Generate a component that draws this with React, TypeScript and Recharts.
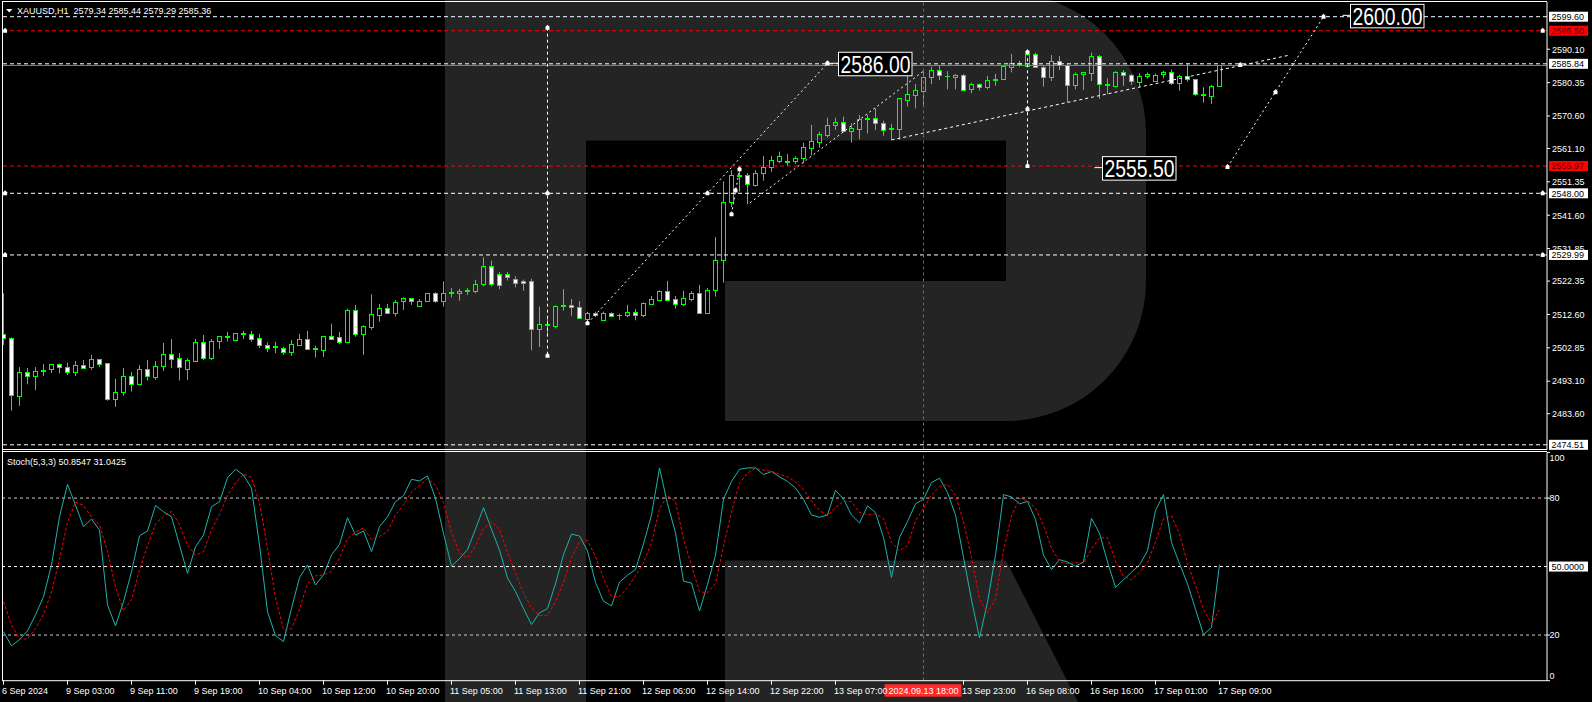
import React from "react";
import { ComposedChart, LineChart, Bar, Line, XAxis, YAxis, ReferenceLine, ReferenceDot } from "recharts";

const FONT = "'Liberation Sans', Arial, sans-serif";
const LIME = "#00ff00";
// bar index -> pixel: bar 0 sits at x=3.5, 8px per bar, plot spans x 2..1547
const X_DOMAIN: [number, number] = [-0.1875, 192.9375];
const PRICE_DOMAIN: [number, number] = [2473.14, 2603.9];

// XAUUSD H1 candles, 6 Sep 2024 20:00 -> 17 Sep 09:00
const opens = [
  2506.8, 2505.7, 2488.9, 2495.7, 2494.7, 2496.0, 2496.8, 2498.0, 2497.2, 2495.9,
  2497.8, 2497.2, 2499.5, 2498.3, 2487.8, 2489.9, 2494.5, 2492.4, 2496.6, 2494.4,
  2497.4, 2501.1, 2499.8, 2496.8, 2499.1, 2504.6, 2500.0, 2504.7, 2506.2, 2505.1,
  2507.0, 2506.8, 2505.6, 2503.8, 2503.1, 2502.8, 2501.7, 2503.8, 2505.4, 2502.8,
  2502.3, 2506.2, 2505.9, 2504.6, 2513.8, 2506.8, 2509.0, 2512.5, 2514.4, 2513.1,
  2516.4, 2517.3, 2515.2, 2516.5, 2518.8, 2516.6, 2518.8, 2518.8, 2519.4, 2519.5,
  2521.4, 2526.7, 2524.3, 2524.3, 2523.0, 2522.3, 2522.3, 2508.4, 2509.6, 2509.2,
  2515.0, 2515.4, 2514.7, 2511.4, 2512.9, 2511.1, 2512.9, 2512.3, 2512.3, 2513.2,
  2512.3, 2515.8, 2516.9, 2519.4, 2517.0, 2515.8, 2517.2, 2518.8, 2513.1, 2519.7,
  2528.4, 2545.4, 2553.0, 2553.4, 2550.5, 2553.9, 2555.6, 2557.5, 2557.1, 2557.3,
  2558.2, 2561.3, 2563.1, 2565.0, 2567.9, 2568.8, 2566.3, 2566.9, 2569.7, 2570.0,
  2568.5, 2566.7, 2566.9, 2575.4, 2576.8, 2578.0, 2581.9, 2584.0, 2582.4, 2582.1,
  2582.5, 2578.5, 2579.9, 2579.0, 2581.0, 2581.3, 2585.0, 2585.9, 2585.2, 2588.7,
  2585.0, 2581.9, 2586.6, 2585.4, 2579.6, 2582.8, 2583.1, 2588.1, 2579.8, 2579.5,
  2583.5, 2582.5, 2580.6, 2582.2, 2580.9, 2582.9, 2583.3, 2580.2, 2582.3, 2581.4,
  2576.9, 2576.5, 2579.34,
];
const highs = [
  2518.8, 2505.9, 2497.2, 2497.0, 2497.2, 2498.1, 2498.1, 2498.3, 2498.5, 2499.0,
  2499.3, 2500.8, 2499.6, 2498.4, 2493.8, 2497.0, 2495.8, 2497.8, 2499.3, 2499.0,
  2504.3, 2505.4, 2501.3, 2499.8, 2505.4, 2506.6, 2505.4, 2506.2, 2507.5, 2507.1,
  2507.8, 2507.8, 2506.9, 2504.5, 2504.6, 2503.2, 2505.1, 2506.9, 2507.8, 2503.5,
  2506.2, 2509.9, 2507.5, 2514.3, 2515.4, 2509.4, 2518.5, 2515.7, 2515.7, 2516.8,
  2517.6, 2517.4, 2517.1, 2518.9, 2519.1, 2522.3, 2520.3, 2520.1, 2520.3, 2522.7,
  2529.3, 2528.3, 2525.0, 2525.0, 2523.8, 2522.8, 2523.0, 2514.9, 2511.8, 2515.3,
  2520.0, 2517.1, 2516.5, 2513.4, 2513.4, 2513.4, 2513.2, 2512.8, 2515.4, 2514.2,
  2516.1, 2518.0, 2519.6, 2522.4, 2518.0, 2519.5, 2519.4, 2521.2, 2520.3, 2535.2,
  2551.5, 2554.7, 2555.3, 2553.9, 2554.8, 2558.9, 2558.9, 2560.2, 2559.5, 2558.8,
  2562.8, 2568.0, 2566.0, 2570.1, 2570.1, 2570.4, 2568.5, 2570.9, 2570.9, 2572.9,
  2569.2, 2568.3, 2575.8, 2583.1, 2579.9, 2583.7, 2585.0, 2585.5, 2583.7, 2582.8,
  2582.9, 2580.3, 2580.1, 2582.3, 2582.9, 2585.5, 2588.7, 2586.7, 2589.2, 2589.1,
  2585.4, 2588.4, 2588.1, 2586.0, 2583.3, 2583.5, 2589.1, 2588.4, 2581.6, 2583.7,
  2584.0, 2582.9, 2583.1, 2583.3, 2583.0, 2583.8, 2584.2, 2582.6, 2586.0, 2581.4,
  2579.0, 2579.7, 2585.44,
];
const lows = [
  2503.7, 2484.5, 2485.9, 2492.2, 2490.5, 2494.6, 2495.5, 2495.4, 2494.9, 2494.6,
  2496.8, 2496.4, 2497.2, 2487.4, 2485.6, 2488.9, 2490.1, 2492.0, 2493.3, 2493.5,
  2496.1, 2497.0, 2493.3, 2493.5, 2499.1, 2499.3, 2499.3, 2502.5, 2504.7, 2505.1,
  2505.4, 2504.6, 2502.8, 2501.6, 2501.3, 2500.8, 2500.5, 2503.5, 2502.2, 2500.0,
  2500.2, 2505.1, 2503.9, 2504.4, 2506.1, 2500.8, 2508.1, 2510.5, 2512.7, 2512.0,
  2513.9, 2515.4, 2514.9, 2516.4, 2516.0, 2514.9, 2517.6, 2516.6, 2518.3, 2518.8,
  2520.8, 2520.8, 2520.0, 2522.5, 2520.5, 2519.5, 2502.1, 2503.1, 2506.5, 2508.5,
  2513.7, 2512.2, 2511.3, 2510.5, 2511.8, 2510.8, 2511.8, 2511.0, 2511.8, 2510.9,
  2511.8, 2515.6, 2516.7, 2516.5, 2514.3, 2515.1, 2516.4, 2512.9, 2512.7, 2517.8,
  2521.9, 2544.0, 2548.5, 2544.8, 2550.0, 2551.7, 2554.3, 2556.8, 2556.0, 2556.6,
  2556.8, 2559.2, 2561.3, 2564.3, 2566.5, 2565.8, 2562.8, 2563.8, 2565.5, 2566.5,
  2564.8, 2563.6, 2563.7, 2573.3, 2572.8, 2573.8, 2579.9, 2581.1, 2578.4, 2578.4,
  2578.0, 2577.2, 2578.0, 2578.4, 2579.4, 2581.1, 2583.3, 2585.0, 2584.9, 2584.7,
  2579.2, 2580.8, 2584.0, 2574.6, 2578.4, 2578.2, 2580.8, 2575.6, 2577.0, 2579.0,
  2579.4, 2579.7, 2579.0, 2581.5, 2580.6, 2581.6, 2579.7, 2578.0, 2580.6, 2576.5,
  2574.5, 2574.1, 2579.29,
];
const closes = [
  2505.7, 2489.1, 2495.7, 2494.7, 2496.1, 2496.3, 2498.0, 2497.2, 2495.9, 2497.8,
  2497.1, 2499.5, 2498.2, 2487.8, 2489.9, 2494.5, 2492.2, 2496.6, 2494.5, 2497.5,
  2501.1, 2499.7, 2497.2, 2499.2, 2504.6, 2500.0, 2504.9, 2506.2, 2506.0, 2507.1,
  2507.3, 2505.5, 2503.8, 2502.9, 2503.5, 2501.7, 2504.0, 2505.4, 2502.6, 2502.5,
  2506.2, 2505.4, 2504.6, 2513.9, 2506.8, 2509.2, 2512.6, 2514.4, 2513.1, 2516.2,
  2517.3, 2516.6, 2516.5, 2518.8, 2516.6, 2518.8, 2519.1, 2519.5, 2519.7, 2521.6,
  2526.7, 2521.4, 2521.2, 2523.4, 2521.7, 2521.7, 2508.4, 2509.8, 2509.9, 2515.1,
  2515.4, 2514.7, 2511.5, 2512.9, 2512.4, 2512.9, 2512.2, 2512.5, 2513.2, 2512.4,
  2515.9, 2517.1, 2519.4, 2516.9, 2515.8, 2517.3, 2518.8, 2513.1, 2519.7, 2528.5,
  2545.4, 2553.4, 2553.3, 2550.6, 2553.9, 2555.8, 2557.7, 2558.9, 2557.4, 2558.3,
  2561.5, 2563.3, 2565.3, 2568.0, 2568.8, 2566.3, 2567.1, 2569.7, 2570.0, 2568.4,
  2566.6, 2567.0, 2575.8, 2576.9, 2578.2, 2581.9, 2584.0, 2582.5, 2582.2, 2582.6,
  2578.2, 2579.9, 2579.0, 2581.0, 2581.3, 2585.1, 2586.0, 2586.2, 2588.7, 2585.0,
  2581.9, 2586.6, 2585.4, 2579.6, 2582.9, 2583.5, 2588.1, 2579.9, 2579.6, 2583.5,
  2582.5, 2580.7, 2582.2, 2582.9, 2582.5, 2583.5, 2580.2, 2582.3, 2581.3, 2576.9,
  2576.7, 2579.4, 2585.36,
];

// Stochastic(5,3,3): %K main line and %D signal
const stochK = [
  21.5, 15.2, 18.0, 21.8, 28.8, 36.8, 50.7, 71.8, 86.0, 76.9,
  67.5, 70.8, 66.0, 33.2, 24.0, 34.6, 47.8, 63.5, 65.6, 76.7,
  74.0, 71.8, 59.4, 47.0, 58.7, 63.8, 76.2, 78.4, 88.9, 92.6,
  90.1, 84.3, 59.4, 30.2, 19.7, 17.1, 31.7, 45.1, 50.7, 41.9,
  46.3, 55.1, 59.7, 71.4, 63.8, 65.6, 56.5, 67.5, 71.8, 78.4,
  81.1, 88.2, 87.5, 89.7, 79.9, 64.5, 50.2, 53.5, 57.4, 66.4,
  75.8, 66.3, 57.2, 45.0, 39.1, 31.6, 24.6, 29.7, 31.6, 42.5,
  55.2, 64.2, 63.4, 56.8, 43.0, 34.8, 32.8, 43.2, 46.2, 48.7,
  59.9, 72.6, 93.2, 77.5, 64.8, 43.6, 42.8, 30.5, 42.2, 55.0,
  79.5, 87.3, 92.6, 93.2, 93.2, 90.3, 91.6, 89.3, 87.3, 84.4,
  79.5, 72.6, 71.6, 72.6, 83.4, 79.5, 72.6, 69.1, 76.6, 73.6,
  62.8, 45.2, 62.8, 69.7, 77.5, 79.5, 86.8, 88.7, 82.4, 72.6,
  54.0, 35.4, 18.7, 34.4, 55.0, 81.5, 80.5, 77.5, 78.5, 70.7,
  55.0, 48.7, 53.0, 52.0, 50.1, 52.0, 71.1, 64.6, 52.0, 40.9,
  44.2, 47.5, 50.7, 56.9, 74.6, 81.5, 60.5, 51.3, 42.4, 31.3,
  20.2, 23.3, 50.8547,
];
const stochD = [
  34.6, 24.4, 18.2, 18.3, 22.9, 29.1, 38.8, 53.1, 69.5, 78.2,
  76.8, 71.7, 68.1, 56.7, 41.1, 30.6, 35.5, 48.6, 59.0, 68.6,
  72.1, 74.2, 68.4, 59.4, 55.0, 56.5, 66.2, 72.8, 81.2, 86.6,
  90.5, 89.0, 77.9, 58.0, 36.4, 22.3, 22.8, 31.3, 42.5, 45.9,
  46.3, 47.8, 53.7, 62.1, 65.0, 66.9, 62.0, 63.2, 65.3, 72.6,
  77.1, 82.6, 85.6, 88.5, 85.7, 78.0, 64.9, 56.1, 53.7, 59.1,
  66.5, 69.5, 66.4, 56.2, 47.1, 38.6, 31.8, 28.6, 28.6, 34.6,
  43.1, 54.0, 60.9, 61.5, 54.4, 44.9, 36.9, 36.9, 40.7, 46.0,
  51.6, 60.4, 75.2, 81.1, 78.5, 62.0, 50.4, 39.0, 38.5, 42.6,
  58.9, 73.9, 86.5, 91.0, 93.0, 92.2, 91.7, 90.4, 89.4, 87.0,
  83.7, 78.8, 74.6, 72.3, 75.9, 78.5, 78.5, 73.7, 72.8, 73.1,
  71.0, 60.5, 56.9, 59.2, 70.0, 75.6, 81.3, 85.0, 86.0, 81.2,
  69.7, 54.0, 36.0, 29.5, 36.0, 57.0, 72.3, 79.8, 78.8, 75.6,
  68.1, 58.1, 52.2, 51.2, 51.7, 51.4, 57.7, 62.6, 62.6, 52.5,
  45.7, 44.2, 47.5, 51.7, 60.7, 71.0, 72.2, 64.4, 51.4, 41.7,
  31.3, 24.9, 31.0425,
];

// the 13 Sep 15:00 label sits under the crosshair tag, so it is not shown
const timeTicks = [0, 8, 16, 24, 32, 40, 48, 56, 64, 72, 80, 88, 96, 104, 120, 128, 136, 144, 152];
const timeLabels = [
  "6 Sep 2024", "9 Sep 03:00", "9 Sep 11:00", "9 Sep 19:00", "10 Sep 04:00", "10 Sep 12:00",
  "10 Sep 20:00", "11 Sep 05:00", "11 Sep 13:00", "11 Sep 21:00", "12 Sep 06:00", "12 Sep 14:00",
  "12 Sep 22:00", "13 Sep 07:00", "13 Sep 23:00", "16 Sep 08:00", "16 Sep 16:00",
  "17 Sep 01:00", "17 Sep 09:00",
];
const priceTicks = [2590.1, 2580.35, 2570.6, 2561.1, 2551.35, 2541.6, 2531.85, 2522.35, 2512.6, 2502.85, 2493.1, 2483.6];
const stochTicks = [0, 20, 80, 100];

// horizontal price lines drawn by the analyst
const whiteLevels = [2599.6, 2585.84, 2548.0, 2529.99, 2474.51];
const redLevels = [2595.5, 2555.97];
const bidPrice = 2585.36;
const crosshairBar = 115;
const crosshairLabel = "2024.09.13 18:00";

// trend lines as [bar, price, bar, price]
const trendLines: [number, number, number, number][] = [
  [73, 2510.0, 103, 2586.0],
  [93.3, 2545.2, 115, 2583.7],
  [111, 2563.6, 160.8, 2588.4],
  [153, 2555.7, 165, 2599.6],
  [91.0, 2541.9, 92.0, 2555.0],
];
// vertical measuring lines as [bar, topPrice, bottomPrice]
const verticalLines: [number, number, number][] = [
  [68, 2596.4, 2500.5],
  [128, 2589.2, 2556.0],
];
const markers: [number, number][] = [
  [68, 2596.4], [68, 2548.0], [68, 2500.5], [73, 2510.0], [88.0, 2548.0], [91.0, 2541.9],
  [91.5, 2548.8], [92.0, 2555.0], [103, 2586.0], [128, 2589.2], [128, 2572.6], [128, 2556.0],
  [153, 2555.7], [159, 2577.5], [165, 2599.6], [154.6, 2585.5],
  [0.2, 2595.5], [192.4, 2595.5], [0.2, 2548.0], [192.4, 2548.0], [0.2, 2529.99], [192.4, 2529.99],
];
const targetBars = [103, 136, 167];
const targetPrices = [2586.0, 2555.5, 2600.0];

const candles = opens.map((o, i) => ({
  i, open: o, high: highs[i], low: lows[i], close: closes[i], range: [lows[i], highs[i]],
}));
const stochRows = stochK.map((k, i) => ({ i, k, d: stochD[i] }));
const last = opens.length - 1;

function Candle(props: any) {
  const { x, y, width, height, payload } = props;
  if (x == null || y == null || !payload) return null;
  const cx = Math.floor(x + width / 2) + 0.5;
  const { open, close, high, low } = payload;
  const k = high > low ? height / (high - low) : 0;
  const yo = y + (high - open) * k;
  const yc = y + (high - close) * k;
  const top = Math.round(Math.min(yo, yc)) + 0.5;
  const bot = Math.round(Math.max(yo, yc)) + 0.5;
  const bear = close < open;
  return (
    <g>
      <line x1={cx} x2={cx} y1={y} y2={top} stroke={LIME} />
      <line x1={cx} x2={cx} y1={bot} y2={y + height} stroke={LIME} />
      {bot - top < 1 ? (
        <line x1={cx - 2.5} x2={cx + 2.5} y1={top} y2={top} stroke={LIME} />
      ) : (
        <rect x={cx - 2} y={top} width={4} height={bot - top} fill={bear ? "#fff" : "none"} stroke={LIME} />
      )}
    </g>
  );
}

function PriceTick(props: any) {
  const { x, y, payload } = props;
  return (
    <g>
      <line x1={x - 5} x2={x - 2} y1={y} y2={y} stroke="#fff" />
      <text x={x} y={y + 3.3} fill="#fff" fontSize={9} fontFamily={FONT}>{Number(payload.value).toFixed(2)}</text>
    </g>
  );
}

function StochTick(props: any) {
  const { x, y, payload } = props;
  const v = payload.value;
  const dy = v === 100 ? 9 : v === 0 ? -2.2 : 3.3;
  return (
    <g>
      <line x1={x - 5} x2={x - 2} y1={y} y2={y} stroke="#fff" />
      <text x={x - 2.5} y={y + dy} fill="#fff" fontSize={9} fontFamily={FONT}>{v}</text>
    </g>
  );
}

function TimeTick(props: any) {
  const { x, y, payload } = props;
  const label = timeLabels[timeTicks.indexOf(payload.value)];
  if (!label) return null;
  return (
    <g>
      <line x1={x} x2={x} y1={y} y2={y + 4} stroke="#fff" />
      <text x={x - 1.5} y={y + 13.3} fill="#fff" fontSize={9} fontFamily={FONT}>{label}</text>
    </g>
  );
}

function AxisTag(props: any) {
  const { viewBox, tagText, tagFill, tagColor } = props;
  if (!viewBox) return null;
  const x = viewBox.x + viewBox.width;
  const y = viewBox.y;
  return (
    <g>
      <rect x={x + 2} y={y - 5} width={39} height={10} fill={tagFill} />
      <text x={x + 4.5} y={y + 3.3} fill={tagColor} fontSize={9} fontFamily={FONT}>{tagText}</text>
    </g>
  );
}

function TimeTag(props: any) {
  const { viewBox, tagText } = props;
  if (!viewBox) return null;
  const x = viewBox.x;
  const y = viewBox.y + viewBox.height;
  return (
    <g>
      <rect x={x - 39} y={y + 3.5} width={77} height={12.5} fill="#ff2a2a" />
      <text x={x} y={y + 13.3} textAnchor="middle" fill="#fff" fontSize={9} fontFamily={FONT}>{tagText}</text>
    </g>
  );
}

function Marker(props: any) {
  const { cx, cy } = props;
  if (cx == null) return null;
  return <path d={`M${cx - 2} ${cy + 2} V${cy - 1} L${cx} ${cy - 3} L${cx + 2} ${cy - 1} V${cy + 2} Z`} fill="#fff" />;
}

function TargetTag(props: any) {
  const { cx, cy, tagText } = props;
  if (cx == null) return null;
  return (
    <g>
      <line x1={cx + 3} x2={cx + 11} y1={cy} y2={cy} stroke="#fff" />
      <rect x={cx + 11} y={cy - 11} width={73.5} height={23.5} fill="#000" stroke="#fff" />
      <text x={cx + 13} y={cy + 9.5} fill="#fff" fontSize={23} fontFamily={FONT} textLength={70} lengthAdjust="spacingAndGlyphs">
        {tagText}
      </text>
    </g>
  );
}

function Watermark() {
  return (
    <svg width={1592} height={702} style={{ position: "absolute", left: 0, top: 0 }}>
      <rect width={1592} height={702} fill="#000" />
      <g fill="#242424">
        <rect x={445} y={0} width={141} height={702} />
        <rect x={445} y={0} width={562} height={140.6} />
        <rect x={725} y={281} width={282} height={140} />
        <path d="M1006 -7 A140 140 0 0 1 1146 133 V281 A140 140 0 0 1 1006 421 Z" />
        <polygon points="725,560.5 1006,560.5 1078,702 725,702" />
      </g>
    </svg>
  );
}

export default function App() {
  const header = `XAUUSD,H1  ${opens[last].toFixed(2)} ${highs[last].toFixed(2)} ${lows[last].toFixed(2)} ${closes[last].toFixed(2)}`;
  const stochHeader = `Stoch(5,3,3) ${stochK[last].toFixed(4)} ${stochD[last].toFixed(4)}`;

  return (
    <div style={{ position: "fixed", left: 0, top: 0, width: 1592, height: 702, background: "#000", overflow: "hidden" }}>
      <Watermark />

      {/* price panel */}
      <div style={{ position: "absolute", left: 0, top: 0 }}>
        <ComposedChart width={1592} height={452} data={candles} margin={{ top: 2, right: 0, bottom: 2.5, left: 2 }}>
          <XAxis dataKey="i" type="number" domain={X_DOMAIN} allowDataOverflow hide />
          <YAxis
            orientation="right" width={45} domain={PRICE_DOMAIN} allowDataOverflow
            ticks={priceTicks} interval={0} tick={<PriceTick />} tickLine={false} tickSize={0} tickMargin={5}
            axisLine={{ stroke: "#fff" }}
          />
          <ReferenceLine y={bidPrice} stroke="#778899" />
          {whiteLevels.map(v => (
            <ReferenceLine key={`w${v}`} y={v} stroke="#fff" strokeDasharray="4 3"
              label={<AxisTag tagText={v.toFixed(2)} tagFill="#fff" tagColor="#000" />} />
          ))}
          {redLevels.map(v => (
            <ReferenceLine key={`r${v}`} y={v} stroke="#ff0000" strokeDasharray="4 3"
              label={<AxisTag tagText={v.toFixed(2)} tagFill="#ff0000" tagColor="#500000" />} />
          ))}
          <ReferenceLine x={crosshairBar} stroke="#ff2a2a" strokeDasharray="3 3" />
          <Bar dataKey="range" barSize={5} isAnimationActive={false} shape={<Candle />} />
          {trendLines.map((t, n) => (
            <ReferenceLine key={`t${n}`} segment={[{ x: t[0], y: t[1] }, { x: t[2], y: t[3] }]}
              stroke="#fff" strokeDasharray={n === 2 ? "3 3" : "2 3"} />
          ))}
          {verticalLines.map((v, n) => (
            <ReferenceLine key={`v${n}`} segment={[{ x: v[0], y: v[1] }, { x: v[0], y: v[2] }]}
              stroke="#fff" strokeDasharray="3 3" />
          ))}
          {markers.map((m, n) => (
            <ReferenceDot key={`m${n}`} x={m[0]} y={m[1]} shape={<Marker />} />
          ))}
          {targetBars.map((b, n) => (
            <ReferenceDot key={`g${n}`} x={b} y={targetPrices[n]} shape={<TargetTag tagText={targetPrices[n].toFixed(2)} />} />
          ))}
        </ComposedChart>
      </div>

      {/* stochastic panel */}
      <div style={{ position: "absolute", left: 0, top: 440 }}>
        <LineChart width={1592} height={262} data={stochRows} margin={{ top: 12.4, right: 0, bottom: 0, left: 2 }}>
          <XAxis
            dataKey="i" type="number" domain={X_DOMAIN} allowDataOverflow height={21.3}
            ticks={timeTicks} interval={0} tick={<TimeTick />} tickLine={false} tickSize={0} tickMargin={0}
            axisLine={{ stroke: "#fff" }}
          />
          <YAxis
            orientation="right" width={45} domain={[0, 100]} allowDataOverflow
            ticks={stochTicks} interval={0} tick={<StochTick />} tickLine={false} tickSize={0} tickMargin={5}
            axisLine={{ stroke: "#fff" }}
          />
          <ReferenceLine y={80} stroke="#c8c8c8" strokeDasharray="3 3" />
          <ReferenceLine y={20} stroke="#c8c8c8" strokeDasharray="3 3" />
          <ReferenceLine y={50} stroke="#fff" strokeDasharray="3 3"
            label={<AxisTag tagText="50.0000" tagFill="#fff" tagColor="#000" />} />
          <Line type="linear" dataKey="k" stroke="#20b2aa" strokeWidth={1} dot={false} isAnimationActive={false} />
          <Line type="linear" dataKey="d" stroke="#ff0000" strokeWidth={1} strokeDasharray="3 2" dot={false} isAnimationActive={false} />
          <ReferenceLine x={crosshairBar} stroke="#ff2a2a" strokeDasharray="3 3"
            label={<TimeTag tagText={crosshairLabel} />} />
        </LineChart>
      </div>

      {/* window frame and captions */}
      <svg width={1592} height={702} style={{ position: "absolute", left: 0, top: 0, pointerEvents: "none" }}>
        <line x1={2} x2={1547} y1={1.5} y2={1.5} stroke="#fff" />
        <line x1={2} x2={1547} y1={449.5} y2={449.5} stroke="#fff" />
        <line x1={2} x2={1547} y1={451.5} y2={451.5} stroke="#fff" />
        <line x1={2.5} x2={2.5} y1={1} y2={681} stroke="#fff" />
        <path d="M6 9 H12.5 L9.25 12.5 Z" fill="#fff" />
        <text x={17} y={14} fill="#fff" fontSize={9} fontFamily={FONT} style={{ whiteSpace: "pre" }}>{header}</text>
        <text x={7} y={464.5} fill="#fff" fontSize={9} fontFamily={FONT}>{stochHeader}</text>
      </svg>
    </div>
  );
}
